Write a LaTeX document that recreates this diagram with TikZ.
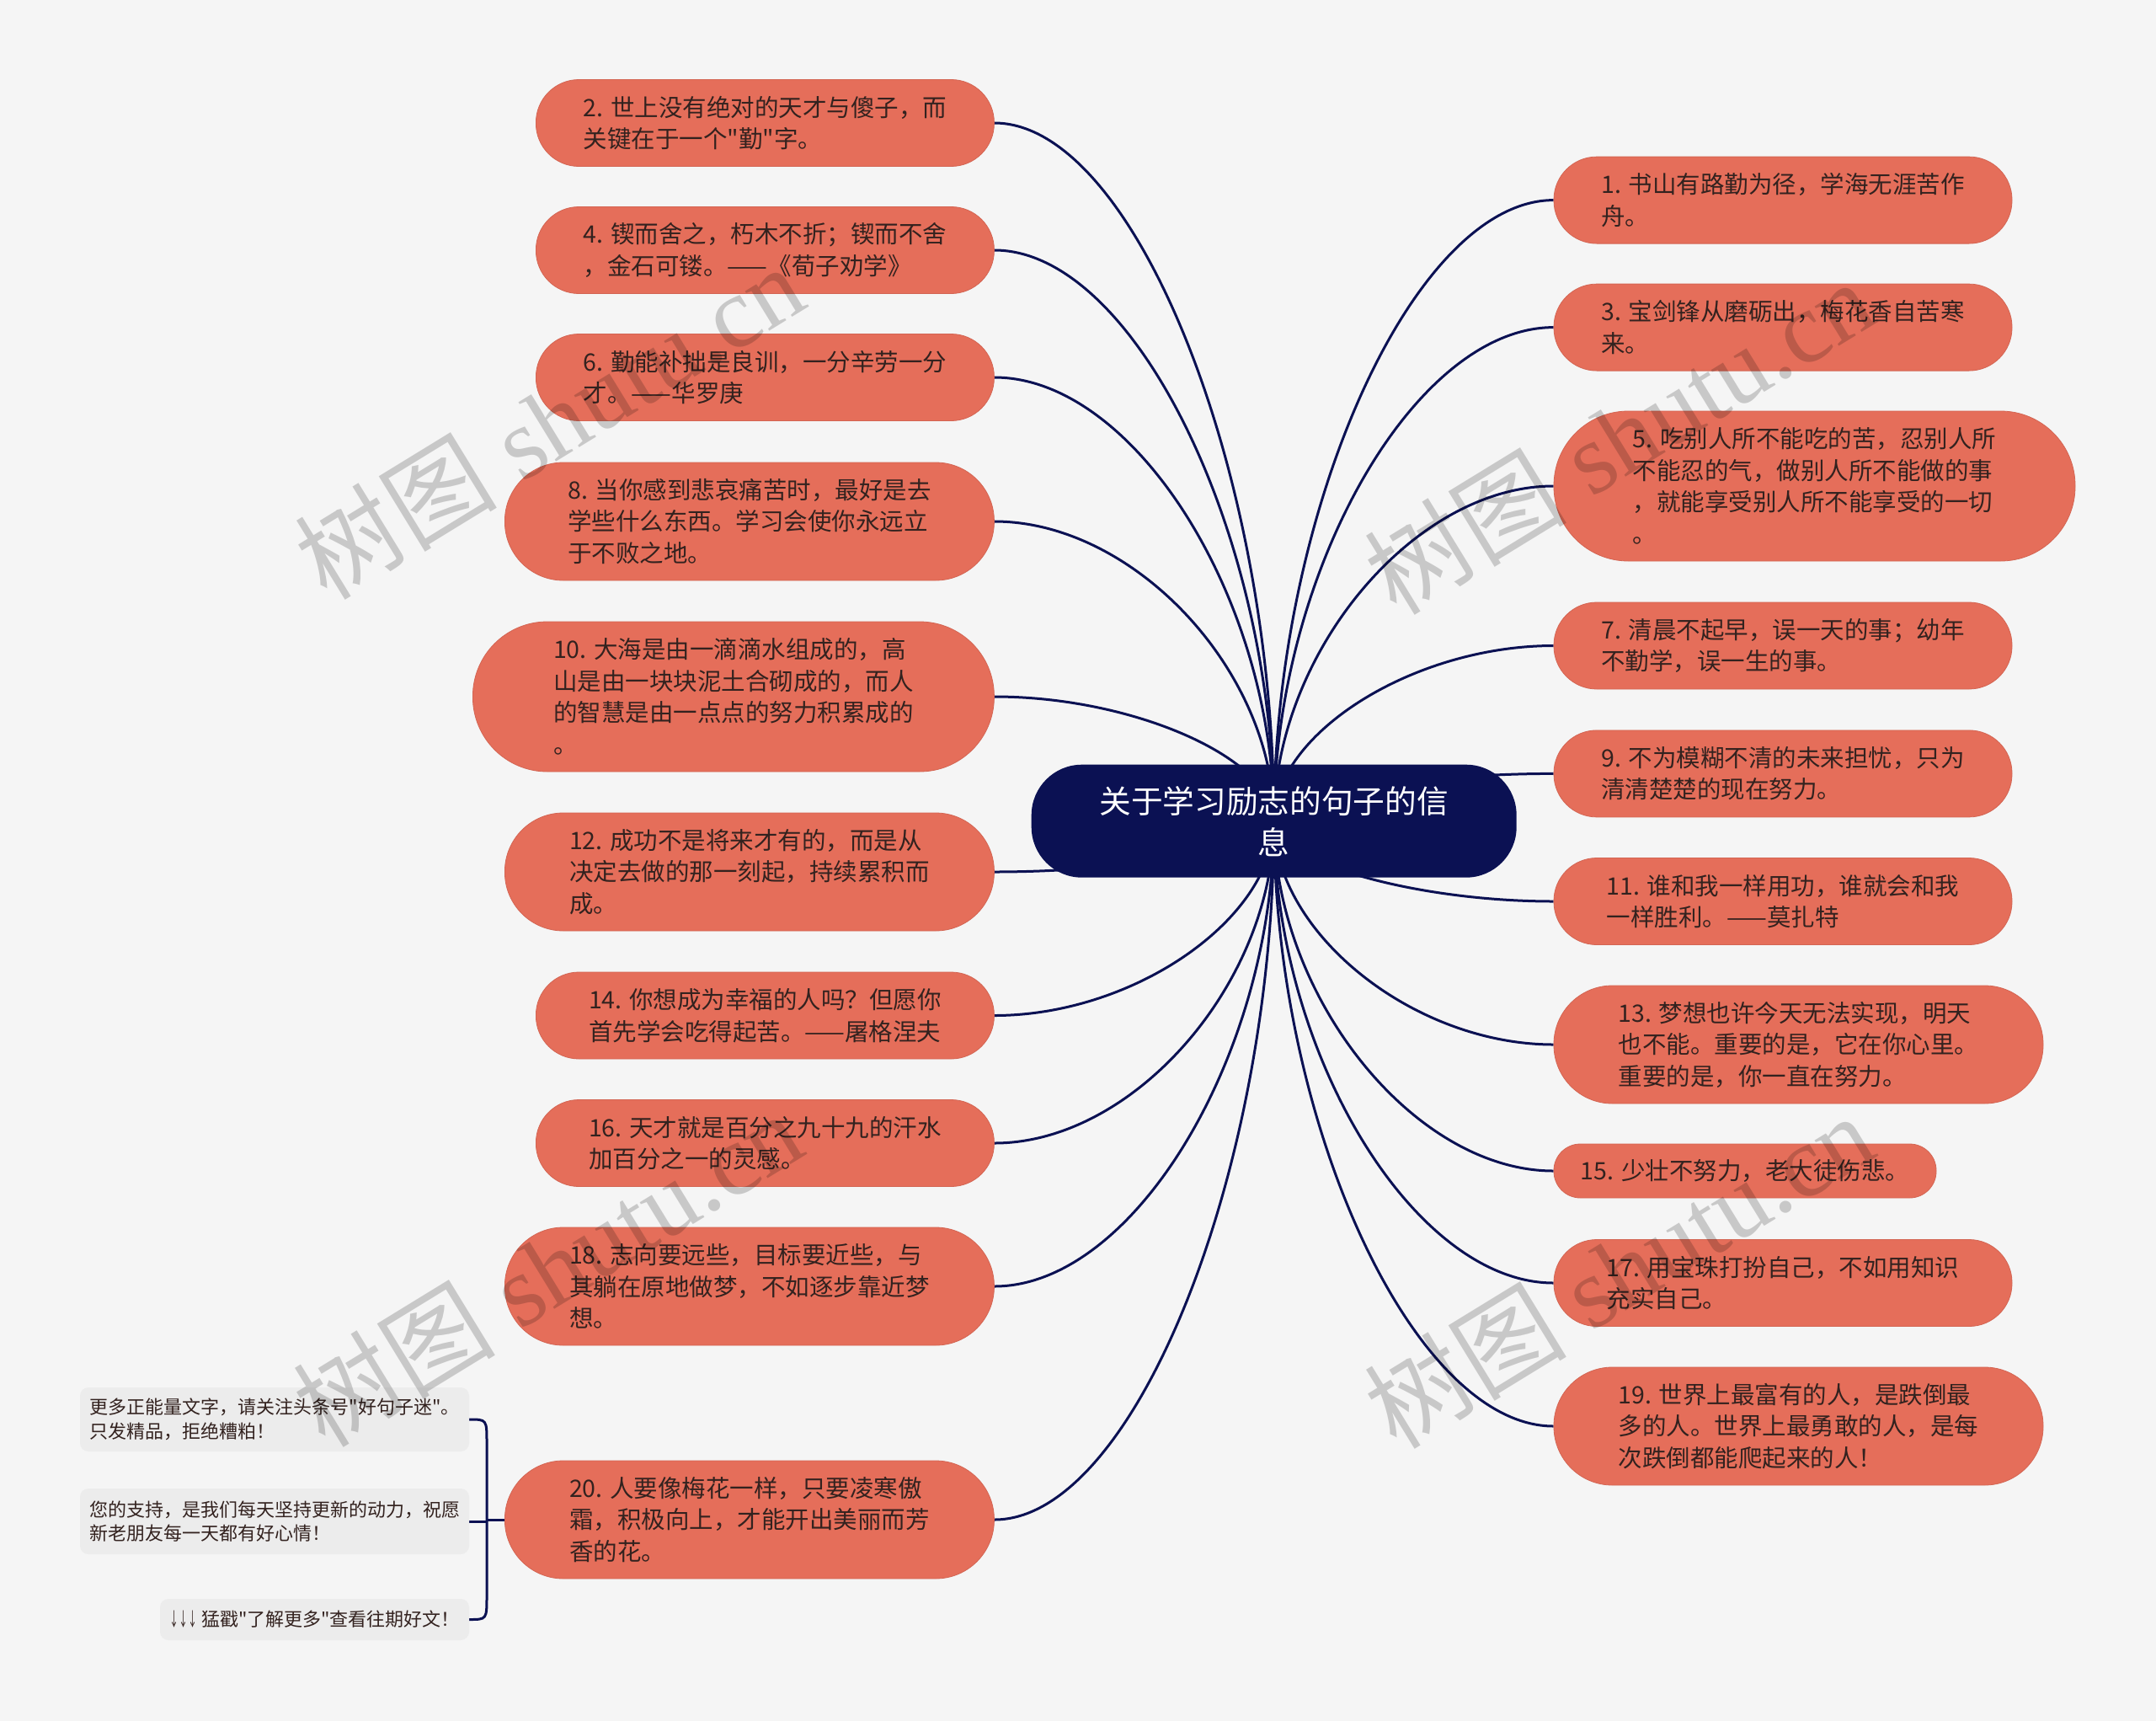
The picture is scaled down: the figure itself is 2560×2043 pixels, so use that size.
\documentclass[tikz,border=0pt]{standalone}
\usepackage{fontspec}
\setmainfont{Liberation Serif}
\newfontfamily\cjk{Noto Sans CJK SC}
\usetikzlibrary{calc}
\definecolor{bgc}{HTML}{F5F5F5}
\definecolor{navy}{HTML}{0B1153}
\definecolor{leaffill}{HTML}{E56E5A}
\definecolor{leaftext}{HTML}{33221F}
\definecolor{notefill}{HTML}{ECECEC}
\pgfdeclarelayer{background}
\pgfsetlayers{background,main}
\begin{document}
\begin{tikzpicture}[x=1pt,y=-1pt,
 leaf/.style={fill=leaffill, draw=leaffill!92!black, line width=0.8pt, text=leaftext,
   font=\cjk\fontsize{28.5}{37.5}\selectfont, align=left, inner sep=0pt},
 lone/.style={leaf, minimum width=454pt, minimum height=64pt, rounded corners=31.5pt},
 ltwo/.style={leaf, minimum width=544pt, minimum height=103pt, rounded corners=51pt},
 lthree/.style={leaf, minimum width=581pt, minimum height=140pt, rounded corners=69.5pt},
 lfour/.style={leaf, minimum width=619pt, minimum height=178pt, rounded corners=88.5pt},
 root/.style={fill=navy, text=white, font=\cjk\fontsize{37.7}{49}\selectfont, align=center,
   minimum width=576pt, minimum height=134pt, rounded corners=60pt, inner sep=0pt},
 note/.style={fill=notefill, text=leaftext, font=\cjk\fontsize{22}{28.5}\selectfont,
   align=left, rounded corners=10pt, inner sep=0pt},
 link/.style={draw=navy, line width=3pt},
 wm/.style={text=black, opacity=0.18, rotate=31.5, font=\fontsize{120}{120}\selectfont, inner sep=0pt}
]
\useasboundingbox (0,0) rectangle (2560,2043);

% root
\node[root] (root) at (1512.7,974.7) {关于学习励志的句子的信\\息};

% left leaves
\node[ltwo]   (n2)  at (908.4,146)  {2. 世上没有绝对的天才与傻子，而\\关键在于一个"勤"字。};
\node[ltwo]   (n4)  at (908.4,297)  {4. 锲而舍之，朽木不折；锲而不舍\\，金石可镂。——《荀子劝学》};
\node[ltwo]   (n6)  at (908.4,448)  {6. 勤能补拙是良训，一分辛劳一分\\才。——华罗庚};
\node[lthree] (n8)  at (889.9,619)  {8. 当你感到悲哀痛苦时，最好是去\\学些什么东西。学习会使你永远立\\于不败之地。};
\node[lfour]  (n10) at (870.9,827)  {10. 大海是由一滴滴水组成的，高\\山是由一块块泥土合砌成的，而人\\的智慧是由一点点的努力积累成的\\。};
\node[lthree] (n12) at (889.9,1035) {12. 成功不是将来才有的，而是从\\决定去做的那一刻起，持续累积而\\成。};
\node[ltwo]   (n14) at (908.4,1205.5) {14. 你想成为幸福的人吗？但愿你\\首先学会吃得起苦。——屠格涅夫};
\node[ltwo]   (n16) at (908.4,1357) {16. 天才就是百分之九十九的汗水\\加百分之一的灵感。};
\node[lthree] (n18) at (889.9,1527) {18. 志向要远些，目标要近些，与\\其躺在原地做梦，不如逐步靠近梦\\想。};
\node[lthree] (n20) at (889.9,1804) {20. 人要像梅花一样，只要凌寒傲\\霜，积极向上，才能开出美丽而芳\\香的花。};

% right leaves
\node[ltwo]   (n1)  at (2117,237.6)  {1. 书山有路勤为径，学海无涯苦作\\舟。};
\node[ltwo]   (n3)  at (2117,388.6)  {3. 宝剑锋从磨砺出，梅花香自苦寒\\来。};
\node[lfour]  (n5)  at (2154.5,577)  {5. 吃别人所不能吃的苦，忍别人所\\不能忍的气，做别人所不能做的事\\，就能享受别人所不能享受的一切\\。};
\node[ltwo]   (n7)  at (2117,766.5)  {7. 清晨不起早，误一天的事；幼年\\不勤学，误一生的事。};
\node[ltwo]   (n9)  at (2117,918.4)  {9. 不为模糊不清的未来担忧，只为\\清清楚楚的现在努力。};
\node[ltwo]   (n11) at (2117,1070)   {11. 谁和我一样用功，谁就会和我\\一样胜利。——莫扎特};
\node[lthree] (n13) at (2135.5,1240) {13. 梦想也许今天无法实现，明天\\也不能。重要的是，它在你心里。\\重要的是，你一直在努力。};
\node[lone]   (n15) at (2072,1390)   {15. 少壮不努力，老大徒伤悲。};
\node[ltwo]   (n17) at (2117,1523)   {17. 用宝珠打扮自己，不如用知识\\充实自己。};
\node[lthree] (n19) at (2135.5,1693) {19. 世界上最富有的人，是跌倒最\\多的人。世界上最勇敢的人，是每\\次跌倒都能爬起来的人！};

% notes
\node[note, minimum width=462pt, minimum height=76pt] (na) at (326,1685) {更多正能量文字，请关注头条号"好句子迷"。\\只发精品，拒绝糟粕！};
\node[note, minimum width=462pt, minimum height=78pt] (nb) at (326,1806) {您的支持，是我们每天坚持更新的动力，祝愿\\新老朋友每一天都有好心情！};
\node[note, minimum width=367pt, minimum height=49pt] (nc) at (373.5,1922.5) {\scalebox{0.5}[1]{↓↓↓} 猛戳"了解更多"查看往期好文！};
\coordinate (bk) at (578,1804);

\begin{pgfonlayer}{background}
 \fill[bgc] (0,0) rectangle (2560,2043);
 \foreach \nd in {n2,n4,n6,n8,n10,n12,n14,n16,n18,n20}{
  \draw[link] let \p1=(root.center), \p2=(\nd.east) in
    (\p2) .. controls ({(\x1+\x2)/2},\y2) and (\x1,{(\y1+\y2)/2}) .. (\p1);
 }
 \foreach \nd in {n1,n3,n5,n7,n9,n11,n13,n15,n17,n19}{
  \draw[link] let \p1=(root.center), \p2=(\nd.west) in
    (\p1) .. controls (\x1,{(\y1+\y2)/2}) and ({(\x1+\x2)/2},\y2) .. (\p2);
 }
 \draw[link] let \p1=(na.east), \p2=(nc.east), \p3=(bk) in
   (\p1) .. controls (\x3,\y1) .. (\x3,{\y1-28pt}) -- (\x3,{\y2+28pt}) .. controls (\x3,\y2) .. (\p2);
 \draw[link] (nb.east) -- (nb.east -| bk);
 \draw[link] (bk) -- (n20.west);
\end{pgfonlayer}

% watermarks
\node[wm] (w1) at (652,500)   {{\cjk 树图} shutu.cn};
\node[wm] (w2) at (1922,518)  {{\cjk 树图} shutu.cn};
\node[wm] (w3) at (650,1506)  {{\cjk 树图} shutu.cn};
\node[wm] (w4) at (1922,1508) {{\cjk 树图} shutu.cn};
\end{tikzpicture}
\end{document}
